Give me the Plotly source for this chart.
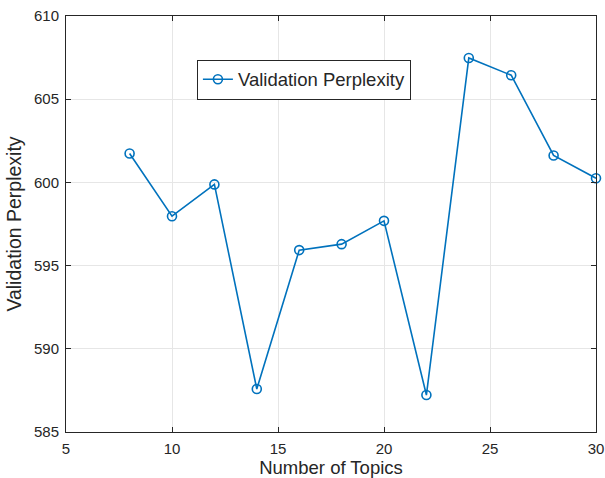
import plotly.graph_objects as go

topics = [8, 10, 12, 14, 16, 18, 20, 22, 24, 26, 28, 30]
perplexity = [601.74, 597.97, 599.88, 587.58, 595.93, 596.29, 597.69, 587.22, 607.48, 606.44, 601.62, 600.25]
series_name = "Validation Perplexity"
x_ticks = [5, 10, 15, 20, 25, 30]
y_ticks = [585, 590, 595, 600, 605, 610]

blue = "#0072BD"
axis_col = "#262626"
font = "Liberation Sans, Arial, Helvetica, sans-serif"

fig = go.Figure()
fig.add_trace(go.Scatter(
    x=topics, y=perplexity, name=series_name, mode="lines+markers",
    line=dict(color=blue, width=1.6),
    marker=dict(symbol="circle-open", size=9, color=blue, line=dict(width=1.6, color=blue)),
    showlegend=True, cliponaxis=False,
))

axis_common = dict(
    showline=True, linecolor=axis_col, linewidth=1, mirror="ticks",
    ticks="inside", ticklen=5, tickcolor=axis_col, tickwidth=1,
    showgrid=True, gridcolor="#E6E6E6", gridwidth=1, zeroline=False,
    tickfont=dict(family=font, size=15, color=axis_col),
    automargin=False,
)

fig.update_layout(
    width=605, height=478,
    margin=dict(l=66, r=9, t=16, b=46),
    paper_bgcolor="white", plot_bgcolor="white",
    font=dict(family=font, color=axis_col),
    xaxis=dict(range=[5, 30], tickvals=x_ticks, ticktext=[str(v) for v in x_ticks],
               ticklabelstandoff=3,
               title=dict(text="Number of Topics", font=dict(size=18.5, family=font, color=axis_col), standoff=8),
               **axis_common),
    yaxis=dict(range=[585, 610], tickvals=y_ticks, ticktext=[str(v) for v in y_ticks],
               ticklabelstandoff=3,
               title=dict(text="Validation Perplexity", font=dict(size=19.5, family=font, color=axis_col), standoff=7),
               **axis_common),
    legend=dict(x=0.247, y=0.895, xanchor="left", yanchor="top",
                bordercolor=axis_col, borderwidth=1, bgcolor="white",
                font=dict(family=font, size=18.5, color=axis_col),
                itemwidth=30, tracegroupgap=0, entrywidth=244),
)

fig.write_html(
    "out.html",
    config={"displayModeBar": False},
    post_script="document.body.style.margin='0px';document.body.style.overflow='hidden';",
)
